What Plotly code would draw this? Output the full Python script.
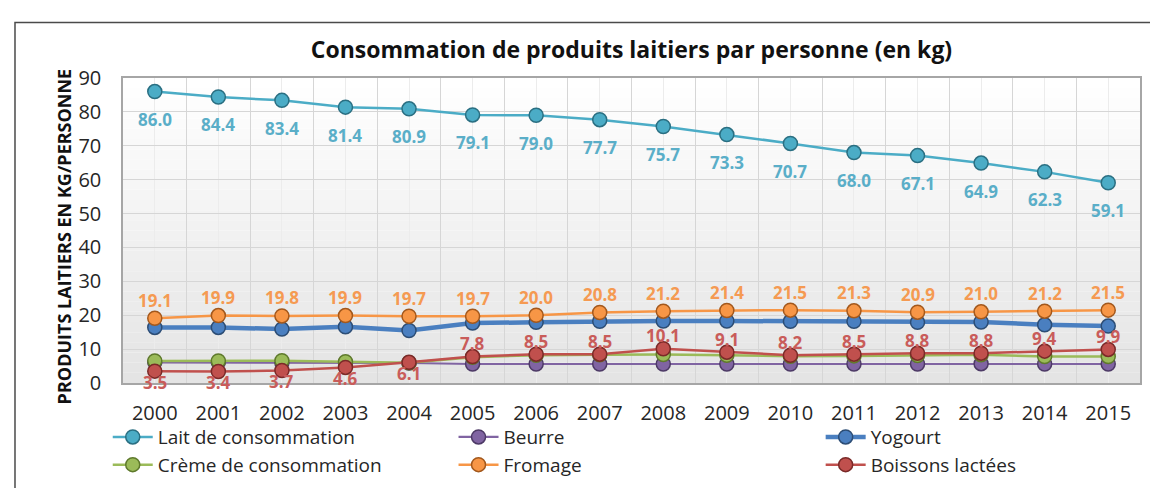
import plotly.graph_objects as go

years = [2000, 2001, 2002, 2003, 2004, 2005, 2006, 2007, 2008, 2009, 2010, 2011, 2012, 2013, 2014, 2015]
year_labels = [str(y) for y in years]

lait = [86.0, 84.4, 83.4, 81.4, 80.9, 79.1, 79.0, 77.7, 75.7, 73.3, 70.7, 68.0, 67.1, 64.9, 62.3, 59.1]
beurre = [6.1, 6.1, 6.0, 6.0, 5.9, 5.6, 5.6, 5.6, 5.6, 5.6, 5.6, 5.6, 5.6, 5.7, 5.6, 5.6]
yogourt = [16.4, 16.4, 15.9, 16.6, 15.5, 17.7, 17.9, 18.2, 18.3, 18.3, 18.2, 18.2, 17.9, 18.0, 17.2, 16.8]
creme = [6.5, 6.5, 6.6, 6.3, 6.0, 7.6, 8.2, 8.3, 8.4, 8.2, 7.9, 8.0, 8.1, 8.3, 7.8, 7.8]
fromage = [19.1, 19.9, 19.8, 19.9, 19.7, 19.7, 20.0, 20.8, 21.2, 21.4, 21.5, 21.3, 20.9, 21.0, 21.2, 21.5]
boissons = [3.5, 3.4, 3.7, 4.6, 6.1, 7.8, 8.5, 8.5, 10.1, 9.1, 8.2, 8.5, 8.8, 8.8, 9.4, 9.9]

series_names = ["Lait de consommation", "Beurre", "Yogourt",
                "Crème de consommation", "Fromage", "Boissons lactées"]

FONT = "Open Sans"

styles = {
    "Lait de consommation": dict(color="#4bacc6", edge="#2a6f82", width=2.5, legend="legend"),
    "Beurre": dict(color="#8064a2", edge="#4d3a66", width=2.2, legend="legend2"),
    "Yogourt": dict(color="#4a7fc0", edge="#2c4d75", width=4.5, legend="legend3"),
    "Crème de consommation": dict(color="#9bbb59", edge="#5f7a2c", width=2.5, legend="legend"),
    "Fromage": dict(color="#f79646", edge="#a3581c", width=2.5, legend="legend2"),
    "Boissons lactées": dict(color="#c0504d", edge="#7a2a28", width=2.5, legend="legend3"),
}
data = {
    "Lait de consommation": lait,
    "Beurre": beurre,
    "Yogourt": yogourt,
    "Crème de consommation": creme,
    "Fromage": fromage,
    "Boissons lactées": boissons,
}

fig = go.Figure()
for name in series_names:
    s = styles[name]
    fig.add_trace(go.Scatter(
        x=years, y=data[name], name=name, mode="lines+markers",
        line=dict(color=s["color"], width=s["width"]),
        marker=dict(size=14, color=s["color"], line=dict(color=s["edge"], width=1.5)),
        legend=s["legend"],
    ))

annotations = []
for x, v in zip(years, lait):
    annotations.append(dict(x=x, y=v, text=f"{v:.1f}", showarrow=False, yshift=-28,
                            font=dict(family=FONT, size=17, color="#5aaec8", weight="bold")))
for x, v in zip(years, fromage):
    annotations.append(dict(x=x, y=v, text=f"{v:.1f}", showarrow=False, yshift=18,
                            font=dict(family=FONT, size=17, color="#f59a52", weight="bold")))
for i, (x, v) in enumerate(zip(years, boissons)):
    shift = -11 if i < 5 else 13
    annotations.append(dict(x=x, y=v, text=f"{v:.1f}", showarrow=False, yshift=shift,
                            font=dict(family=FONT, size=17, color="#c95c5a", weight="bold")))

annotations.append(dict(
    xref="paper", yref="paper", x=-0.072, y=0.48, text="<b>PRODUITS LAITIERS EN KG/PERSONNE</b>",
    textangle=-90, showarrow=False, font=dict(family=FONT, size=18, color="#111111"),
))

# background gradient bands (styling)
shapes = []
n = 30
for i in range(n):
    t = i / (n - 1)
    g = int(round(255 - (255 - 228) * (1 - t)))
    shapes.append(dict(type="rect", xref="x domain", yref="y domain",
                       x0=0, x1=1, y0=i / n, y1=(i + 1) / n,
                       fillcolor=f"rgb({g},{g},{g})", line=dict(width=0), layer="below"))
# outer frame
shapes.append(dict(type="rect", xref="paper", yref="paper",
                   x0=-0.1062, x1=1.03, y0=-0.35, y1=1.1818,
                   line=dict(color="#4a4a4a", width=1.5), fillcolor="rgba(0,0,0,0)"))

legend_common = dict(orientation="v", yanchor="top", xanchor="left",
                     font=dict(family=FONT, size=19, color="#262626"),
                     bgcolor="rgba(0,0,0,0)", tracegroupgap=0, itemwidth=40)

fig.update_layout(
    width=1158, height=488,
    margin=dict(l=115, r=26, t=70, b=99),
    paper_bgcolor="white", plot_bgcolor="white",
    font=dict(family=FONT, color="#262626"),
    title=dict(text="<b>Consommation de produits laitiers par personne (en kg)</b>",
               x=0.5, xref="paper", xanchor="center", y=1 - 42 / 488, yanchor="middle",
               yref="container", font=dict(family=FONT, size=23, color="#111111")),
    legend=dict(x=-0.015, y=-0.115, **legend_common),
    legend2=dict(x=0.325, y=-0.115, **legend_common),
    legend3=dict(x=0.686, y=-0.115, **legend_common),
    annotations=annotations,
    shapes=shapes,
)

fig.update_xaxes(
    range=[1999.5, 2015.5], tickmode="array", tickvals=years, ticktext=year_labels,
    showgrid=True, gridcolor="#ececec", gridwidth=1,
    minor=dict(tickmode="array", tickvals=[y - 0.5 for y in years], showgrid=True,
               gridcolor="#d6d6d6", gridwidth=1),
    showline=True, mirror=True, linecolor="#a6a6a6", linewidth=1.5,
    zeroline=False, ticks="", ticklabelstandoff=11,
    tickfont=dict(family=FONT, size=20, color="#262626"),
)
fig.update_yaxes(
    range=[0, 90], dtick=10, showgrid=True, gridcolor="#d6d6d6", gridwidth=1,
    showline=True, mirror=True, linecolor="#a6a6a6", linewidth=1.5,
    zeroline=False, ticks="", ticklabelstandoff=16,
    tickfont=dict(family=FONT, size=20, color="#262626"),
)

fig.write_html("out.html")
